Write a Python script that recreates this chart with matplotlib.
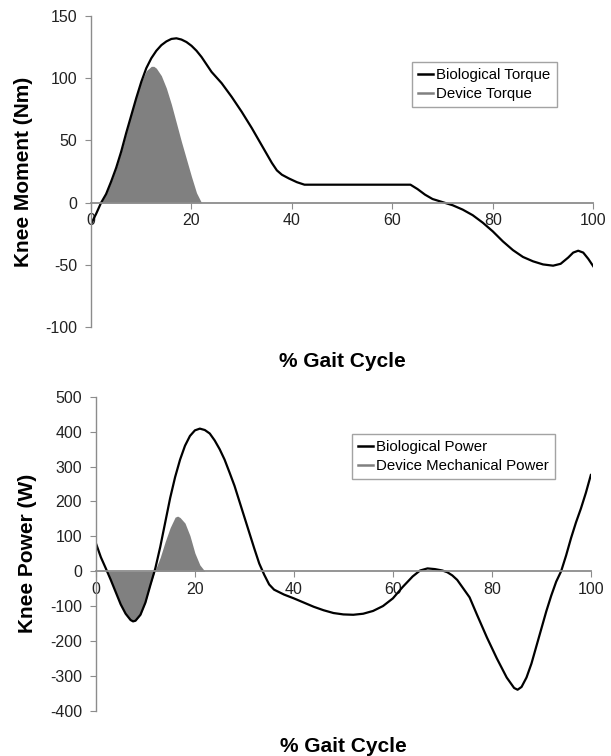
import matplotlib.pyplot as plt
import numpy as np

plt.rcParams['font.family'] = ['Liberation Sans', 'DejaVu Sans']
plt.rcParams['axes.unicode_minus'] = False

# Top: knee moment
gait_t = [0, 1, 2, 3, 4, 5, 6, 7, 8, 9, 10, 11, 12, 13, 14, 15, 16, 17, 18, 19, 20, 21, 22, 23, 24,
          26, 28, 30, 32, 34, 36, 37, 38, 39.4, 41, 42.5, 50, 60, 63.6, 65, 66.5, 68, 70, 72, 74, 76,
          78, 80, 82, 84, 86, 88, 90, 92, 93.5, 95, 96, 97, 98, 99, 100]
bio_torque = [-17, -9, 0, 7, 17, 28, 41, 56, 70, 84, 97, 108, 116, 122, 126.5, 129.5, 131.5, 132, 131,
              129, 126, 122, 117, 111, 105, 96, 85, 73, 60, 46, 32, 26, 22.5, 19.5, 16.5, 14.5, 14.5,
              14.5, 14.5, 11, 6.5, 3, 0.5, -2, -5.5, -10, -16, -23, -31, -38, -43.5, -47, -49.5, -50.5,
              -49, -44, -40, -38.5, -40, -45, -51]

dev_t = [2, 3, 4, 5, 6, 7, 8, 9, 10, 11, 12, 12.5, 13, 14, 15, 16, 17, 18, 19, 20, 21, 22]
dev_torque = [0, 7, 17, 28, 41, 56, 71, 85, 97, 106, 109.5, 109.5, 108, 102, 92, 79, 64, 49, 35, 21, 8, 0]

# Bottom: knee power
gait_p = [0, 1, 2, 3, 4, 5, 6, 7, 7.5, 8, 9, 10, 11, 12, 13, 14, 15, 16, 17, 18, 19, 20, 21, 22, 23,
          24, 25, 26, 27, 28, 29, 30, 31, 32, 33, 34, 35, 36, 37, 38, 40, 42, 44, 46, 48, 50, 52, 54,
          56, 58, 60, 62, 64, 65.5, 67, 68.5, 70, 71, 72, 73, 74, 75.5, 77, 79, 81, 83, 84.5, 85.2,
          86, 87, 88, 89, 90, 91, 92, 93, 94, 95, 96, 97, 98, 99, 100]
bio_power = [80, 40, 8, -25, -60, -95, -122, -140, -144, -142, -125, -90, -40, 8, 70, 140, 210, 270,
             320, 360, 388, 404, 409, 405, 395, 375, 350, 320, 283, 245, 200, 155, 110, 65, 22, -10,
             -38, -53, -60, -67, -78, -90, -102, -112, -120, -124, -125, -122, -114, -100, -78, -45,
             -15, 2, 8, 6, 2, -3, -12, -25, -45, -75, -125, -190, -250, -305, -335, -340, -332, -305,
             -265, -215, -165, -115, -70, -30, 0, 45, 95, 140, 180, 225, 276]

dev_p = [2.4, 3, 4, 5, 6, 7, 7.5, 8, 9, 10, 11, 11.9, 13, 14, 15, 16, 16.5, 17, 18, 19, 20, 21, 22]
dev_power = [0, -25, -60, -95, -122, -140, -144, -142, -125, -90, -40, 0, 40, 85, 125, 155, 158, 154,
             138, 102, 52, 18, 0]

axis_gray = '#8c8c8c'


def style_axes(ax, ylim, yticks):
    ax.set_xlim(0, 100)
    ax.set_ylim(*ylim)
    ax.set_yticks(yticks)
    ax.set_xticks([0, 20, 40, 60, 80, 100])
    ax.spines['top'].set_visible(False)
    ax.spines['right'].set_visible(False)
    ax.spines['bottom'].set_position(('data', 0))
    ax.spines['bottom'].set_color(axis_gray)
    ax.spines['left'].set_color(axis_gray)
    ax.spines['bottom'].set_linewidth(1.3)
    ax.spines['left'].set_linewidth(1.0)
    ax.tick_params(axis='both', colors=axis_gray, labelcolor='#222222', labelsize=11.5, length=4)
    ax.tick_params(axis='y', pad=6)


fig = plt.figure(figsize=(6.11, 7.56), dpi=100)

ax1 = fig.add_axes([0.149, 0.567, 0.822, 0.412])
ax1.fill_between(dev_t, dev_torque, 0, color='#808080', lw=0)
ax1.plot([], [], color='black', lw=1.8, label='Biological Torque')
ax1.plot([], [], color='#808080', lw=1.8, label='Device Torque')
ax1.plot(gait_t, bio_torque, color='black', lw=1.6)
style_axes(ax1, (-100, 150), [-100, -50, 0, 50, 100, 150])
ax1.set_ylabel('Knee Moment (Nm)', fontsize=15, fontweight='bold')
ax1.yaxis.set_label_coords(-0.115, 0.5)
ax1.set_xlabel('% Gait Cycle', fontsize=15, fontweight='bold')
ax1.xaxis.set_label_coords(0.5, -0.08)
leg1 = ax1.legend(loc='upper left', bbox_to_anchor=(0.64, 0.852), fontsize=10.8, frameon=True,
                  fancybox=False, edgecolor=axis_gray, handlelength=1.0, handletextpad=0.2,
                  borderpad=0.4, labelspacing=0.35, borderaxespad=0)
leg1.get_frame().set_linewidth(1.0)

ax2 = fig.add_axes([0.157, 0.060, 0.810, 0.415])
ax2.fill_between(dev_p, dev_power, 0, color='#808080', lw=0)
ax2.plot([], [], color='black', lw=1.8, label='Biological Power')
ax2.plot([], [], color='#808080', lw=1.8, label='Device Mechanical Power')
ax2.plot(gait_p, bio_power, color='black', lw=1.6)
style_axes(ax2, (-400, 500), np.arange(-400, 501, 100))
ax2.set_ylabel('Knee Power (W)', fontsize=15, fontweight='bold')
ax2.yaxis.set_label_coords(-0.12, 0.5)
ax2.set_xlabel('% Gait Cycle', fontsize=15, fontweight='bold')
ax2.xaxis.set_label_coords(0.5, -0.085)
leg2 = ax2.legend(loc='upper left', bbox_to_anchor=(0.517, 0.882), fontsize=10.8, frameon=True,
                  fancybox=False, edgecolor=axis_gray, handlelength=1.0, handletextpad=0.2,
                  borderpad=0.4, labelspacing=0.35, borderaxespad=0)
leg2.get_frame().set_linewidth(1.0)

plt.savefig('out.png', dpi=100)
